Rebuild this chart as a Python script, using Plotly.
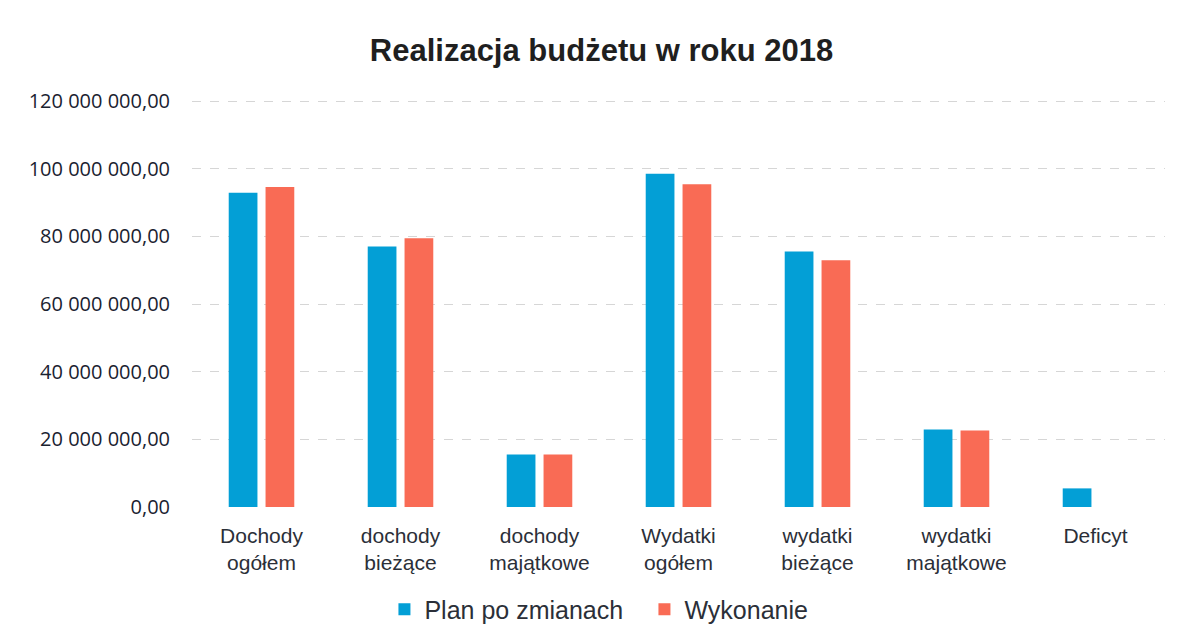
import plotly.graph_objects as go

categories = ["Dochody<br>ogółem", "dochody<br>bieżące", "dochody<br>majątkowe",
              "Wydatki<br>ogółem", "wydatki<br>bieżące", "wydatki<br>majątkowe", "Deficyt"]
plan_po_zmianach = [92.9e6, 77.0e6, 15.5e6, 98.5e6, 75.5e6, 22.9e6, 5.5e6]
wykonanie = [94.6e6, 79.4e6, 15.5e6, 95.4e6, 72.9e6, 22.6e6, 0]
tick_vals = [0, 20e6, 40e6, 60e6, 80e6, 100e6, 120e6]
tick_text = ["0,00", "20 000 000,00", "40 000 000,00", "60 000 000,00",
             "80 000 000,00", "100 000 000,00", "120 000 000,00"]

fig = go.Figure()
fig.add_trace(go.Bar(x=categories, y=plan_po_zmianach, name="Plan po zmianach",
                     marker=dict(color="#039FD6", line=dict(width=0))))
fig.add_trace(go.Bar(x=categories, y=wykonanie, name="Wykonanie",
                     marker=dict(color="#F96B55", line=dict(width=0))))

fig.update_layout(
    width=1173, height=636,
    paper_bgcolor="white", plot_bgcolor="white",
    margin=dict(l=184, r=16, t=92, b=135),
    barmode="group", bargap=0.47, bargroupgap=0.22,
    title=dict(text="<b>Realizacja budżetu w roku 2018</b>", x=0.506, xanchor="center",
               y=0.934, yanchor="middle",
               font=dict(family="Liberation Sans", size=31, color="#1f1f1f")),
    showlegend=True,
    legend=dict(orientation="h", x=0.465, xanchor="center", y=-0.252, yanchor="middle",
                font=dict(family="Liberation Sans", size=25, color="#2b2f38"),
                itemwidth=30, entrywidth=215, entrywidthmode="pixels",
                traceorder="normal"),
    font=dict(family="Liberation Sans", color="#2b2f38"),
)
fig.update_xaxes(showgrid=False, showline=False, ticks="", ticklabelstandoff=14,
                 tickfont=dict(family="Liberation Sans", size=21, color="#2b2f38"))
fig.update_yaxes(range=[0, 120.3e6], tickvals=tick_vals, ticktext=tick_text,
                 showgrid=True, gridcolor="#d6d6d6", griddash="dash", gridwidth=1,
                 zeroline=False, showline=False, ticks="", ticklabelstandoff=21,
                 tickfont=dict(family="Open Sans", size=20, color="#1a2230"))

fig.write_html("out.html")
